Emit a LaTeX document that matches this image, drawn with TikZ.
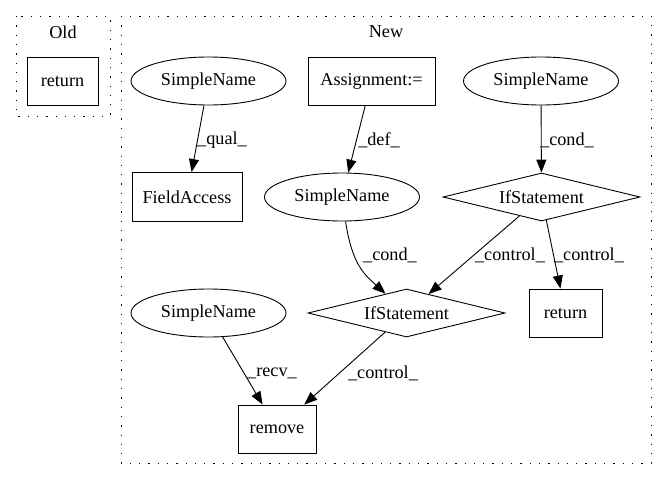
\documentclass[tikz,border=0pt]{standalone}
\usepackage{fontspec}
\setmainfont{Liberation Serif}
\usetikzlibrary{shapes.geometric,arrows.meta}
\begin{document}
\begin{tikzpicture}[x=1pt,y=-1pt,
  every node/.style={font=\fontsize{18.2}{21}\selectfont},
  cluster/.style={draw, line width=1pt, dash pattern=on 1.3pt off 8pt},
  boxnode/.style={draw, line width=0.9pt, rectangle, inner sep=0pt},
  ellnode/.style={draw, line width=0.9pt, ellipse, inner sep=0pt, minimum width=155pt, minimum height=48pt},
  dianode/.style={draw, line width=0.9pt, diamond, aspect=4, inner sep=0pt, minimum width=197pt, minimum height=48pt},
  edge/.style={draw, line width=0.9pt, -{Triangle[length=13pt,width=10pt]}},
  lbl/.style={inner sep=0pt}]
\useasboundingbox (0,0) rectangle (667,480);
\draw[cluster] (16,16) rectangle (110,116);
\draw[cluster] (121,16) rectangle (651,463);
\node (toldt) at (63,32) {Old};
\node (tnew) at (386,32) {New};
\node[boxnode, minimum width=71pt, minimum height=48pt] (ret0) at (62.5,81) {return};
\node[ellnode] (sn1) at (208.5,81) {SimpleName};
\node[boxnode, minimum width=110pt, minimum height=49pt] (fa) at (187,197) {FieldAccess};
\node[boxnode, minimum width=127pt, minimum height=48pt] (asg) at (371.5,81) {Assignment:=};
\node[ellnode] (sn2) at (342,197) {SimpleName};
\node[ellnode] (sn3) at (541,81) {SimpleName};
\node[dianode] (if1) at (541.5,197) {IfStatement};
\node[dianode] (if2) at (406.5,313) {IfStatement};
\node[boxnode, minimum width=73pt, minimum height=48pt] (ret) at (565.5,313) {return};
\node[ellnode] (sn4) at (208.5,313) {SimpleName};
\node[boxnode, minimum width=78pt, minimum height=48pt] (rem) at (277,429) {remove};
\draw[edge] (sn1) -- (fa);
\draw[edge] (asg) -- (sn2);
\draw[edge] (sn3) -- (if1);
\draw[edge] (sn2) .. controls (352,265) and (365,275) .. (if2);
\draw[edge] (if1) -- (if2);
\draw[edge] (if1) -- (ret);
\draw[edge] (sn4) -- (rem);
\draw[edge] (if2) -- (rem);
\node[lbl] (l1) at (222,140) {\_qual\_};
\node[lbl] (l2) at (379,140) {\_def\_};
\node[lbl] (l3) at (567,140) {\_cond\_};
\node[lbl] (l4) at (390,255) {\_cond\_};
\node[lbl] (l5) at (510,255) {\_control\_};
\node[lbl] (l6) at (589,255) {\_control\_};
\node[lbl] (l7) at (272,373) {\_recv\_};
\node[lbl] (l8) at (383,373) {\_control\_};
\end{tikzpicture}
\end{document}
